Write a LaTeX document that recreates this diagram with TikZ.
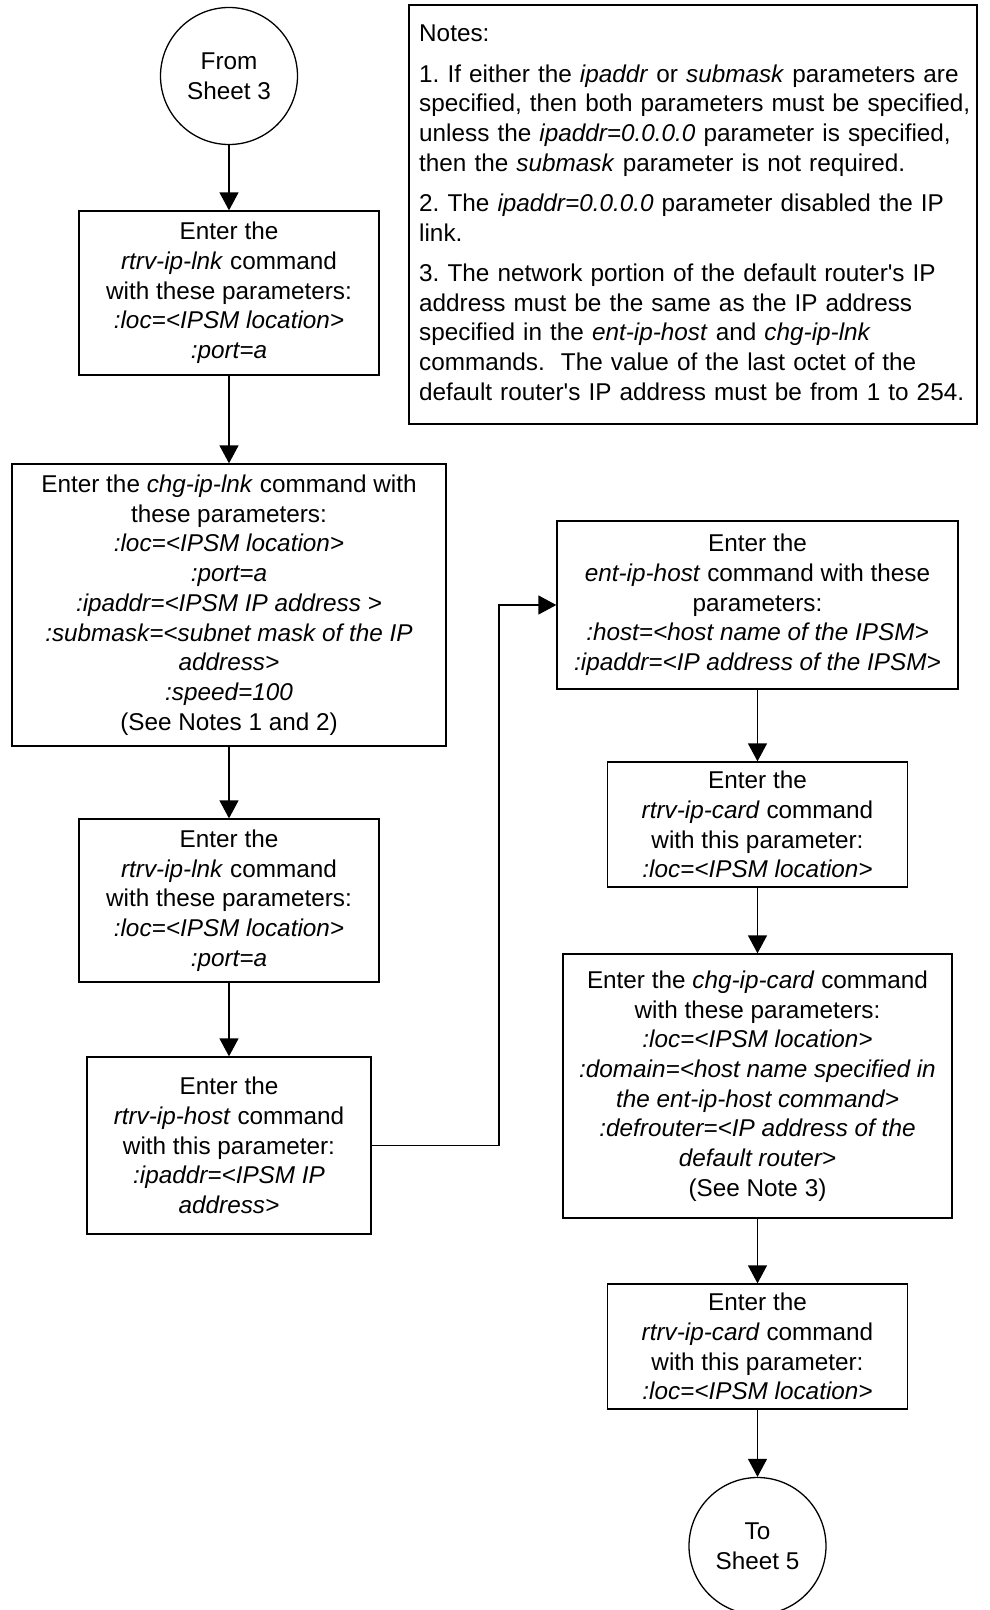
\documentclass[tikz,border=0pt]{standalone}
\usepackage{fontspec}
\setmainfont{Liberation Sans}
\usetikzlibrary{arrows.meta}
\frenchspacing
\begin{document}
\begin{tikzpicture}[x=1pt,y=-1pt,
  txt/.style={font=\fontsize{24.3}{29.7}\selectfont},
  box/.style={draw, line width=1.3pt, align=center, inner sep=2pt, txt},
  term/.style={draw, circle, line width=1.3pt, align=center, minimum size=137pt, inner sep=0pt, txt},
  arr/.style={line width=1.3pt, -{Triangle[length=18pt,width=19pt]}}]
\useasboundingbox (0,0) rectangle (989,1610);
\node[term] (c1) at (229,76) {From\\Sheet 3};
\node[box, minimum width=300pt, minimum height=164pt] (b1) at (229,293)
  {Enter the\\\textit{rtrv-ip-lnk} command\\with these parameters:\\\textit{:loc=<IPSM location>}\\\textit{:port=a}};
\node[box, minimum width=434pt, minimum height=282pt] (b2) at (229,605)
  {Enter the \textit{chg-ip-lnk} command with\\these parameters:\\\textit{:loc=<IPSM location>}\\\textit{:port=a}\\\textit{:ipaddr=<IPSM IP address >}\\\textit{:submask=<subnet mask of the IP}\\\textit{address>}\\\textit{:speed=100}\\(See Notes 1 and 2)};
\node[box, minimum width=300pt, minimum height=163pt] (b3) at (229,900.5)
  {Enter the\\\textit{rtrv-ip-lnk} command\\with these parameters:\\\textit{:loc=<IPSM location>}\\\textit{:port=a}};
\node[box, minimum width=284pt, minimum height=177pt] (b4) at (229,1145.5)
  {Enter the\\\textit{rtrv-ip-host} command\\with this parameter:\\\textit{:ipaddr=<IPSM IP}\\\textit{address>}};
\node[box, minimum width=401pt, minimum height=168pt] (b5) at (757.5,605)
  {Enter the\\\textit{ent-ip-host} command with these\\parameters:\\\textit{:host=<host name of the IPSM>}\\\textit{:ipaddr=<IP address of the IPSM>}};
\node[box, minimum width=300pt, minimum height=125pt] (b6) at (757.5,824.5)
  {Enter the\\\textit{rtrv-ip-card} command\\with this parameter:\\\textit{:loc=<IPSM location>}};
\node[box, minimum width=389pt, minimum height=264pt] (b7) at (757.5,1086)
  {Enter the \textit{chg-ip-card} command\\with these parameters:\\\textit{:loc=<IPSM location>}\\\textit{:domain=<host name specified in}\\\textit{the ent-ip-host command>}\\\textit{:defrouter=<IP address of the}\\\textit{default router>}\\(See Note 3)};
\node[box, minimum width=300pt, minimum height=125pt] (b8) at (757.5,1346.5)
  {Enter the\\\textit{rtrv-ip-card} command\\with this parameter:\\\textit{:loc=<IPSM location>}};
\node[term] (c2) at (757.5,1546) {To\\Sheet 5};
\node[draw, line width=1.3pt, minimum width=568pt, minimum height=419pt, inner sep=0pt] (notes) at (693,214.5) {};
\node[txt, anchor=north west, align=left, inner sep=0pt, text width=560pt] (ntext) at (419,25)
  {Notes:\\[10.5pt]
   1. If either the \textit{ipaddr} or \textit{submask} parameters are\\
   specified, then both parameters must be specified,\\
   unless the \textit{ipaddr=0.0.0.0} parameter is specified,\\
   then the \textit{submask} parameter is not required.\\[10.5pt]
   2. The \textit{ipaddr=0.0.0.0} parameter disabled the IP\\
   link.\\[10.5pt]
   3. The network portion of the default router\textquotesingle s IP\\
   address must be the same as the IP address\\
   specified in the \textit{ent-ip-host} and \textit{chg-ip-lnk}\\
   commands.\ \ The value of the last octet of the\\
   default router\textquotesingle s IP address must be from 1 to 254.};
\coordinate (j) at (499,0);
\draw[arr] (c1) -- (b1);
\draw[arr] (b1) -- (b2);
\draw[arr] (b2) -- (b3);
\draw[arr] (b3) -- (b4);
\draw[arr] (b4.east) -- (b4.east -| j) |- (b5.west);
\draw[arr] (b5) -- (b6);
\draw[arr] (b6) -- (b7);
\draw[arr] (b7) -- (b8);
\draw[arr] (b8) -- (c2);
\end{tikzpicture}
\end{document}
